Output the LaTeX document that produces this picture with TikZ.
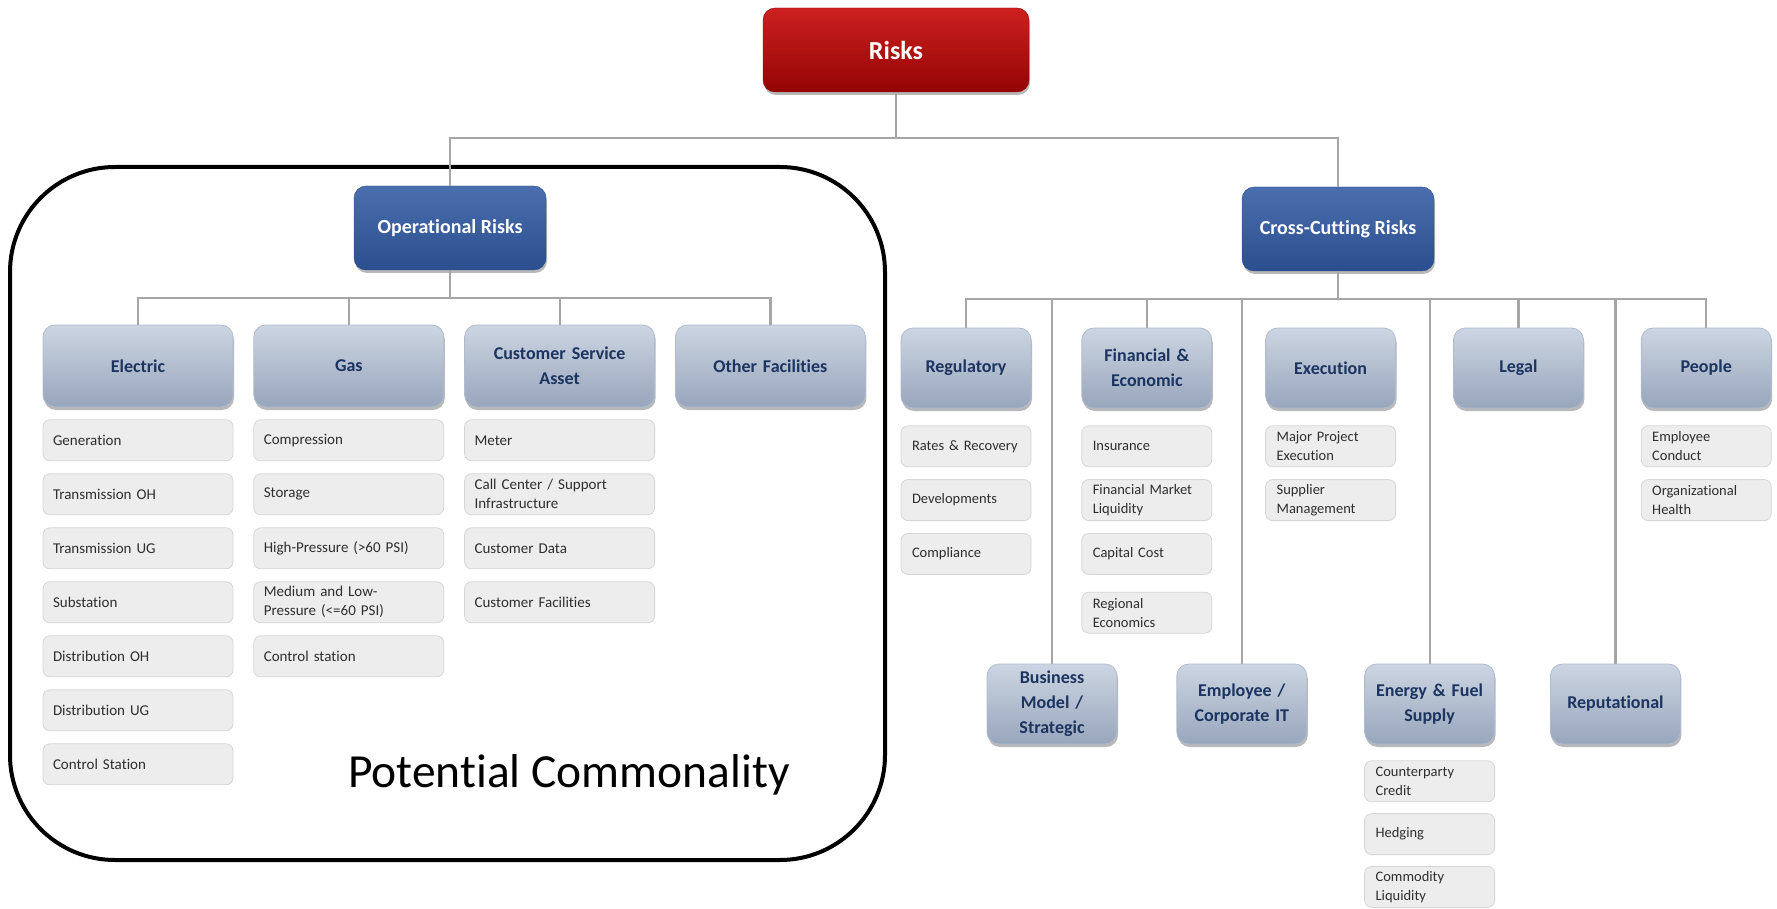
\documentclass[tikz,border=0pt]{standalone}
\usepackage{fontspec}
\setmainfont{Carlito}[Ligatures=NoCommon]
\usetikzlibrary{positioning,shadows}

\definecolor{redtop}{RGB}{205,32,32}
\definecolor{redbot}{RGB}{148,4,4}
\definecolor{bluetop}{RGB}{74,110,174}
\definecolor{bluebot}{RGB}{42,78,142}
\definecolor{cattop}{RGB}{204,213,226}
\definecolor{catbot}{RGB}{152,166,188}
\definecolor{catedge}{RGB}{176,188,206}
\definecolor{catnavy}{RGB}{28,52,96}
\definecolor{itemfill}{RGB}{237,237,237}
\definecolor{itemedge}{RGB}{214,214,214}
\definecolor{linegrey}{RGB}{166,166,166}

\begin{document}
\begin{tikzpicture}[x=1pt, y=-1pt, node distance=12.2pt and 20pt,
  softshadow/.style={drop shadow={shadow xshift=1pt, shadow yshift=-3pt,
                     opacity=0.28, fill=black}},
  rootbox/.style={rounded corners=12pt, top color=redtop, bottom color=redbot,
                  draw=redbot, text=white, minimum width=266pt,
                  minimum height=84pt, softshadow,
                  font=\fontsize{26}{30}\selectfont\bfseries},
  branchbox/.style={rounded corners=12pt, top color=bluetop,
                    bottom color=bluebot, draw=bluebot, text=white,
                    minimum width=192pt, minimum height=84pt, softshadow,
                    font=\fontsize{20}{24}\selectfont\bfseries},
  catbox/.style={rounded corners=12pt, top color=cattop, bottom color=catbot,
                 draw=catedge, line width=0.8pt, text=catnavy, align=center,
                 text width=170pt, inner xsep=10pt, minimum height=82pt,
                 softshadow, font=\fontsize{18}{25}\selectfont\bfseries},
  smallcat/.style={catbox, text width=114pt, inner xsep=8pt,
                   minimum height=80pt},
  itembox/.style={rounded corners=7pt, fill=itemfill, draw=itemedge,
                  line width=0.8pt, text=black!82, align=left,
                  text width=170pt, inner xsep=10pt, inner ysep=2pt,
                  minimum height=41pt, font=\fontsize{15}{19}\selectfont},
  smallitem/.style={itembox, text width=108pt, inner xsep=11pt,
                    font=\fontsize{14.5}{19}\selectfont},
  conn/.style={draw=linegrey, line width=2.2pt},
  frame/.style={line width=4pt, rounded corners=105pt}]
  \useasboundingbox (0,0) rectangle (1777,909);

  \draw[frame] (10,167) rectangle (885,860);
  \node (pcm) [anchor=base, font=\fontsize{47.5}{54}\selectfont] at (569,787)
    {Potential Commonality};

  \node (risks) [rootbox] at (896,50) {Risks};
  \node (ops) [branchbox] at (450,228) {Operational Risks};
  \node (ccr) [branchbox] at (1338,229) {Cross-Cutting Risks};

  % operational categories
  \node (elec) [catbox] at (138,366) {Electric};
  \node (gas)  [catbox, right=of elec] {Gas};
  \node (csa)  [catbox, right=of gas] {Customer Service\\Asset};
  \node (oth)  [catbox, right=of csa] {Other Facilities};

  \node (gen) [itembox, below=12pt of elec] {Generation};
  \node (toh) [itembox, below=of gen] {Transmission OH};
  \node (tug) [itembox, below=of toh] {Transmission UG};
  \node (sub) [itembox, below=of tug] {Substation};
  \node (doh) [itembox, below=of sub] {Distribution OH};
  \node (dug) [itembox, below=of doh] {Distribution UG};
  \node (ecs) [itembox, below=of dug] {Control Station};

  \node (cmp) [itembox, below=12pt of gas] {Compression};
  \node (sto) [itembox, below=of cmp] {Storage};
  \node (hip) [itembox, below=of sto] {High-Pressure (>60 PSI)};
  \node (mlp) [itembox, below=of hip] {Medium and Low-\\Pressure (<=60 PSI)};
  \node (gcs) [itembox, below=of mlp] {Control station};

  \node (met) [itembox, below=12pt of csa] {Meter};
  \node (ccs) [itembox, below=of met] {Call Center / Support\\Infrastructure};
  \node (cdt) [itembox, below=of ccs] {Customer Data};
  \node (cfc) [itembox, below=of cdt] {Customer Facilities};

  % cross-cutting categories, upper row
  \node (reg) [smallcat] at (966,368) {Regulatory};
  \node (fin) [smallcat, right=50pt of reg] {Financial \&\\Economic};
  \node (exe) [smallcat, right=53pt of fin] {Execution};
  \node (leg) [smallcat, right=57pt of exe] {Legal};
  \node (ppl) [smallcat, right=57pt of leg] {People};

  \node (rrc) [smallitem, below=17pt of reg] {Rates \& Recovery};
  \node (dev) [smallitem, below=12pt of rrc] {Developments};
  \node (cpl) [smallitem, below=12pt of dev] {Compliance};

  \node (ins) [smallitem, below=17pt of fin] {Insurance};
  \node (fml) [smallitem, below=12pt of ins] {Financial Market\\Liquidity};
  \node (cap) [smallitem, below=12pt of fml] {Capital Cost};
  \node (rec) [smallitem, below=17pt of cap] {Regional\\Economics};

  \node (mpe) [smallitem, below=17pt of exe] {Major Project\\Execution};
  \node (sup) [smallitem, below=12pt of mpe] {Supplier\\Management};

  \node (emc) [smallitem, below=17pt of ppl] {Employee\\Conduct};
  \node (org) [smallitem, below=12pt of emc] {Organizational\\Health};

  % cross-cutting categories, lower row
  \node (bmd) [smallcat] at (1052,704) {Business\\Model /\\Strategic};
  \node (emp) [smallcat, right=59pt of bmd] {Employee /\\Corporate IT};
  \node (enr) [smallcat, right=57pt of emp] {Energy \& Fuel\\Supply};
  \node (rep) [smallcat, right=55pt of enr] {Reputational};

  \node (cpc) [smallitem, below=16pt of enr] {Counterparty\\Credit};
  \node (hdg) [smallitem, below=11pt of cpc] {Hedging};
  \node (cml) [smallitem, below=11pt of hdg] {Commodity\\Liquidity};

  % tree lines
  \draw[conn] (risks.south) -- ++(0,-46pt) -| (ops.north);
  \draw[conn] (risks.south) -- ++(0,-46pt) -| (ccr.north);
  \foreach \n in {elec,gas,csa,oth}
    \draw[conn] (ops.south) -- ++(0,-28pt) -| (\n.north);
  \foreach \n in {reg,fin,leg,ppl,bmd,emp,enr,rep}
    \draw[conn] (ccr.south) -- ++(0,-28pt) -| (\n.north);
\end{tikzpicture}
\end{document}
